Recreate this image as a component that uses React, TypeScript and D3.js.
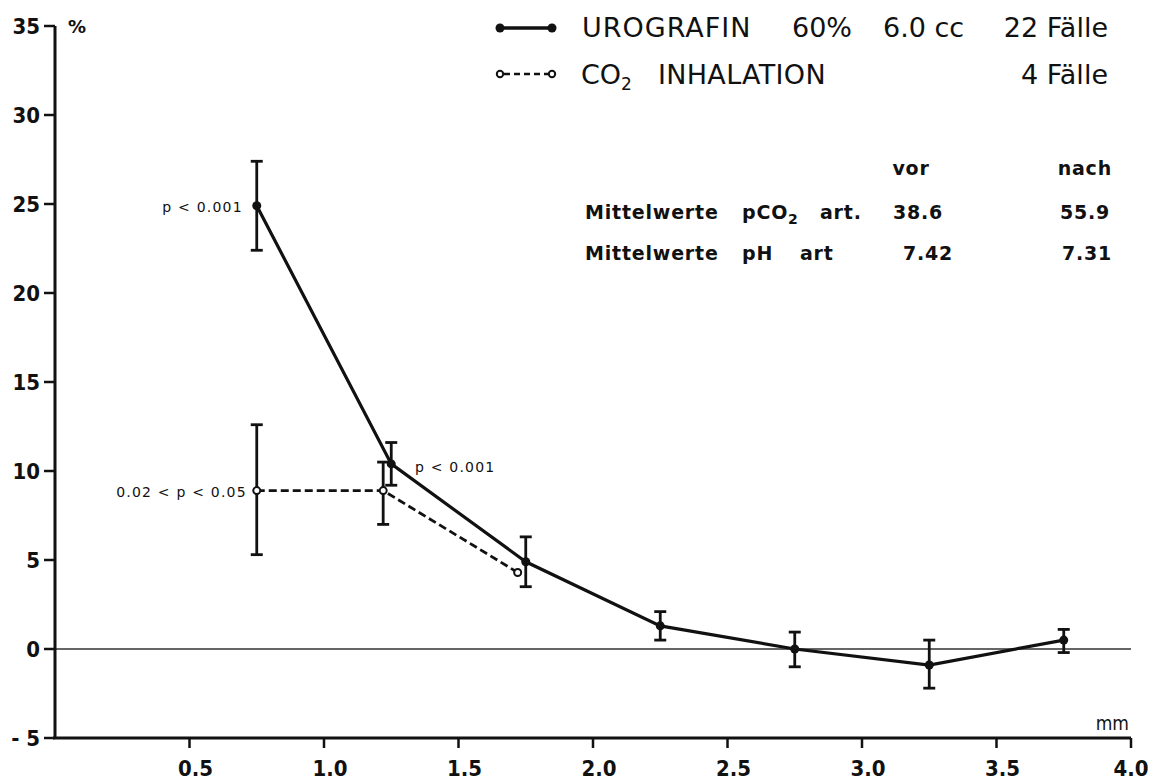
import React from 'react';
import * as d3 from 'd3';

// Urografin 60%, 22 cases
const uroX = [0.75, 1.25, 1.75, 2.25, 2.75, 3.25, 3.75];
const uroY = [24.9, 10.4, 4.9, 1.3, 0.0, -0.9, 0.5];
const uroHi = [27.4, 11.6, 6.3, 2.1, 0.95, 0.5, 1.1];
const uroLo = [22.4, 9.2, 3.5, 0.5, -1.0, -2.2, -0.2];

// CO2 inhalation, 4 cases
const co2X = [0.75, 1.22, 1.72];
const co2Y = [8.9, 8.9, 4.3];
const co2Hi = [12.6, 10.5, null];
const co2Lo = [5.3, 7.0, null];

const xTicks = [0.5, 1.0, 1.5, 2.0, 2.5, 3.0, 3.5, 4.0];
const yTicks = [35, 30, 25, 20, 15, 10, 5, 0, -5];

const W = 1152, H = 783;
const font = '"DejaVu Sans", sans-serif';
const condensed = '"DejaVu Sans Condensed", "DejaVu Sans", sans-serif';

const App: React.FC = () => {
  const x = d3.scaleLinear().domain([0, 4]).range([55, 1131]);
  const y = d3.scaleLinear().domain([-5, 35]).range([738, 26]);

  const line = d3.line<[number, number]>().x(d => x(d[0])).y(d => y(d[1]));
  const uroPts = uroX.map((v, i) => [v, uroY[i]] as [number, number]);
  const co2Pts = co2X.map((v, i) => [v, co2Y[i]] as [number, number]);
  const cap = 6;

  return (
    <div style={{position: 'absolute', left: 0, top: 0}}>
      <svg width={W} height={H} style={{background: 'white', display: 'block'}} fontFamily={font}>
        {/* zero line */}
        <line x1={x(0)} x2={x(4)} y1={y(0)} y2={y(0)} stroke="#333" strokeWidth={1.5}/>

        {/* y axis */}
        <line x1={x(0)} x2={x(0)} y1={y(35)} y2={y(-5)} stroke="#111" strokeWidth={3}/>
        {yTicks.map(t => (
          <g key={t}>
            <line x1={x(0) - 11} x2={x(0)} y1={y(t)} y2={y(t)} stroke="#111" strokeWidth={2.5}/>
            <text x={x(0) - 15} y={y(t)} dy="0.36em" textAnchor="end" fontSize={22}
                  fontFamily={condensed} fontWeight="bold" fill="#111">
              {t < 0 ? '- ' + Math.abs(t) : t}
            </text>
          </g>
        ))}
        <text x={68} y={33} fontSize={18} fontWeight="bold" fill="#111">%</text>

        {/* x axis */}
        <line x1={x(0) - 2} x2={x(4)} y1={y(-5)} y2={y(-5)} stroke="#111" strokeWidth={3}/>
        {xTicks.map(t => (
          <g key={t}>
            <line x1={x(t)} x2={x(t)} y1={y(-5)} y2={y(-5) + 10} stroke="#111" strokeWidth={2.5}/>
            <text x={Math.min(x(t) + 6, W - 21)} y={y(-5) + 38} textAnchor="middle" fontSize={22}
                  fontFamily={condensed} fontWeight="bold" fill="#111">
              {t.toFixed(1)}
            </text>
          </g>
        ))}
        <text x={x(4) - 2} y={y(-5) - 8} textAnchor="end" fontSize={19} fontFamily={condensed} fill="#111">mm</text>

        {/* CO2 series */}
        <path d={line(co2Pts)!} fill="none" stroke="#111" strokeWidth={2.8} strokeDasharray="8,4"/>
        {co2X.map((v, i) => co2Hi[i] !== null ? (
          <g key={'ce' + i} stroke="#111" strokeWidth={2.8}>
            <line x1={x(v)} x2={x(v)} y1={y(co2Hi[i]!)} y2={y(co2Lo[i]!)}/>
            <line x1={x(v) - cap} x2={x(v) + cap} y1={y(co2Hi[i]!)} y2={y(co2Hi[i]!)}/>
            <line x1={x(v) - cap} x2={x(v) + cap} y1={y(co2Lo[i]!)} y2={y(co2Lo[i]!)}/>
          </g>
        ) : null)}
        {co2Pts.map((p, i) => (
          <circle key={'cp' + i} cx={x(p[0])} cy={y(p[1])} r={3.5} fill="white" stroke="#111" strokeWidth={2}/>
        ))}

        {/* Urografin series */}
        <path d={line(uroPts)!} fill="none" stroke="#111" strokeWidth={3.2}/>
        {uroX.map((v, i) => (
          <g key={'ue' + i} stroke="#111" strokeWidth={2.8}>
            <line x1={x(v)} x2={x(v)} y1={y(uroHi[i])} y2={y(uroLo[i])}/>
            <line x1={x(v) - cap} x2={x(v) + cap} y1={y(uroHi[i])} y2={y(uroHi[i])}/>
            <line x1={x(v) - cap} x2={x(v) + cap} y1={y(uroLo[i])} y2={y(uroLo[i])}/>
          </g>
        ))}
        {uroPts.map((p, i) => (
          <circle key={'up' + i} cx={x(p[0])} cy={y(p[1])} r={4.5} fill="#111"/>
        ))}

        {/* significance annotations */}
        <g fontSize={14} fill="#111" letterSpacing={1.2}>
          <text x={x(0.75) - 14} y={y(uroY[0]) + 6} textAnchor="end">p &lt; 0.001</text>
          <text x={x(0.75) - 10} y={y(co2Y[0]) + 6} textAnchor="end">0.02 &lt; p &lt; 0.05</text>
          <text x={415} y={y(uroY[1]) + 8}>p &lt; 0.001</text>
        </g>

        {/* legend */}
        <g fill="#111" fontSize={27}>
          <line x1={500} x2={552} y1={28} y2={28} stroke="#111" strokeWidth={3.5}/>
          <circle cx={500} cy={28} r={4.5} fill="#111"/>
          <circle cx={552} cy={28} r={4.5} fill="#111"/>
          <text x={582} y={37} letterSpacing={1}>UROGRAFIN</text>
          <text x={792} y={37}>60%</text>
          <text x={883} y={37}>6.0 cc</text>
          <text x={1108} y={37} textAnchor="end">22 Fälle</text>

          <line x1={504} x2={548} y1={74} y2={74} stroke="#111" strokeWidth={2.5} strokeDasharray="6,4"/>
          <circle cx={500} cy={74} r={3.2} fill="white" stroke="#111" strokeWidth={2}/>
          <circle cx={552} cy={74} r={3.2} fill="white" stroke="#111" strokeWidth={2}/>
          <text x={581} y={84}>CO<tspan fontSize={17} dy={6}>2</tspan></text>
          <text x={658} y={84} letterSpacing={0.3}>INHALATION</text>
          <text x={1108} y={84} textAnchor="end">4 Fälle</text>
        </g>

        {/* table of means */}
        <g fill="#111" fontSize={19} fontWeight="bold" letterSpacing={0.8}>
          <text x={911} y={175} textAnchor="middle">vor</text>
          <text x={1112} y={175} textAnchor="end">nach</text>
          <text x={585} y={219}>Mittelwerte</text>
          <text x={742} y={219}>pCO<tspan fontSize={14} dy={5}>2</tspan></text>
          <text x={820} y={219}>art.</text>
          <text x={893} y={219}>38.6</text>
          <text x={1110} y={219} textAnchor="end">55.9</text>
          <text x={585} y={260}>Mittelwerte</text>
          <text x={742} y={260}>pH</text>
          <text x={800} y={260}>art</text>
          <text x={953} y={260} textAnchor="end">7.42</text>
          <text x={1112} y={260} textAnchor="end">7.31</text>
        </g>
      </svg>
    </div>
  );
};

export default App;
